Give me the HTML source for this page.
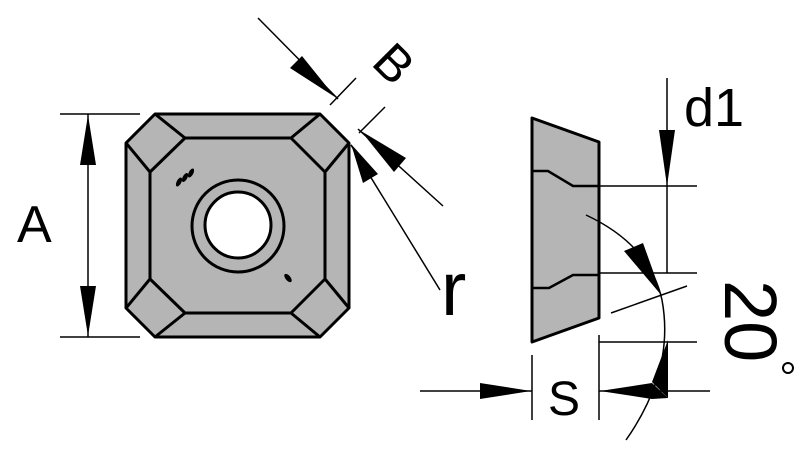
<!DOCTYPE html>
<html><head><style>body{margin:0;background:#fff}svg{display:block}text{font-family:"Liberation Sans",sans-serif;fill:#000}</style></head>
<body>
<svg width="812" height="462" viewBox="0 0 812 462" xmlns="http://www.w3.org/2000/svg">
<g stroke="#000" stroke-width="3" stroke-linejoin="round" fill="#b4b5b4">
<polygon points="155,114 320,114 349,143 349,308 320,337 155,337 126,308 126,143"/>
<polygon points="185,138 291,138 325,172 325,279 291,313 185,313 150,279 150,172" fill="none"/>
<line x1="155" y1="114" x2="185" y2="138"/><line x1="126" y1="143" x2="150" y2="172"/>
<line x1="320" y1="114" x2="291" y2="138"/><line x1="349" y1="143" x2="325" y2="172"/>
<line x1="349" y1="308" x2="325" y2="279"/><line x1="320" y1="337" x2="291" y2="313"/>
<line x1="155" y1="337" x2="185" y2="313"/><line x1="126" y1="308" x2="150" y2="279"/>
<circle cx="238" cy="226" r="46" fill="none"/>
<circle cx="238" cy="225" r="33" fill="#fff"/>
</g>
<g fill="#000">
<ellipse cx="179" cy="182" rx="2.3" ry="5" transform="rotate(28 179 182)"/>
<ellipse cx="185" cy="177.5" rx="2.3" ry="5" transform="rotate(28 185 177.5)"/>
<ellipse cx="191" cy="173" rx="2.3" ry="5" transform="rotate(28 191 173)"/>
<ellipse cx="288" cy="278" rx="2.5" ry="5" transform="rotate(-40 288 278)"/>
</g>
<g stroke="#000" stroke-width="1.5">
<line x1="60" y1="114" x2="140" y2="114"/><line x1="60" y1="337" x2="140" y2="337"/>
<line x1="88" y1="114" x2="88" y2="337"/>
</g>
<polygon points="88,115 80,165 96,165"/><polygon points="88,336 80,286 96,286"/>
<text x="17" y="242" font-size="52">A</text>
<g stroke="#000" stroke-width="1.5">
<line x1="330" y1="105" x2="356" y2="78"/><line x1="359" y1="133" x2="385" y2="107"/>
<line x1="258" y1="18" x2="338" y2="99"/>
<line x1="443" y1="206" x2="358" y2="129"/>
<line x1="440" y1="290" x2="351" y2="145"/>
</g>
<polygon points="335,97 290,68 302,56"/>
<polygon points="361,131 406,158 394,172"/>
<polygon points="351,144 363,183 378,174"/>
<text x="0" y="0" font-size="50" transform="translate(370,64) rotate(45)">B</text>
<text x="441" y="315" font-size="76">r</text>
<polygon points="532,118 599,142 599,318 532,342" fill="#b4b5b4" stroke="#000" stroke-width="3" stroke-linejoin="round"/>
<polyline points="532,171 548,171 573,186 599,186" fill="none" stroke="#000" stroke-width="2.5"/>
<polyline points="532,288 549,288 573,275 599,275" fill="none" stroke="#000" stroke-width="2.5"/>
<g stroke="#000" stroke-width="1.5" fill="none">
<line x1="599" y1="186" x2="697" y2="186"/><line x1="599" y1="273" x2="697" y2="273"/>
<line x1="667" y1="78" x2="667" y2="273"/>
<line x1="611" y1="313" x2="687" y2="286"/>
<line x1="599" y1="342" x2="697" y2="342"/><line x1="668" y1="391" x2="710" y2="391"/>
<line x1="532" y1="355" x2="532" y2="420"/><line x1="599" y1="335" x2="599" y2="420"/>
<line x1="420" y1="391" x2="532" y2="391"/><line x1="599" y1="391" x2="668" y2="391"/>
<path d="M586,215 Q650,245 662,300 Q675,370 626,440"/>
</g>
<polygon points="667,186 659,130 675,130"/>
<polygon points="662,296 624,251 643,243"/>
<polygon points="668,340 652,382 668,398"/>
<polygon points="531,391 480,383 480,399"/>
<polygon points="600,391 652,383 668,398 652,399"/>
<text x="684" y="126" font-size="54">d1</text>
<text x="548" y="415" font-size="48">S</text>
<text x="0" y="0" font-size="74" transform="translate(725,280) rotate(90)">20</text>
<circle cx="788" cy="368" r="5" fill="none" stroke="#000" stroke-width="2"/>
</svg>
</body></html>
